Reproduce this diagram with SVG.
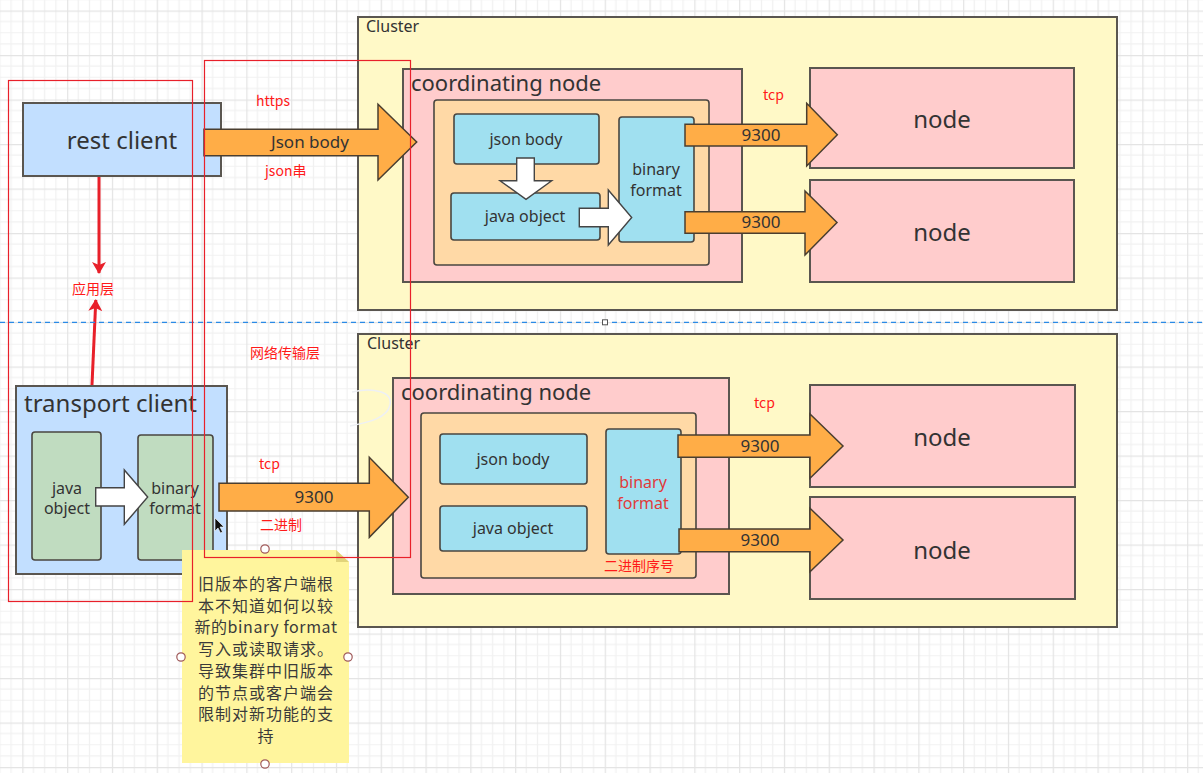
<svg xmlns="http://www.w3.org/2000/svg" width="1203" height="773" viewBox="0 0 1203 773">
<defs>
<style>
.t{font-family:"Noto Sans","Noto Sans CJK SC",sans-serif;fill:#333;}
.r{font-family:"Noto Sans CJK SC","Noto Sans",sans-serif;fill:#ff1a1a;font-size:14px;}
.box{stroke:#5a5650;stroke-width:2;}
.ibox{stroke:#4a4640;stroke-width:1.6;}
.org{fill:#ffad47;stroke:#4a3e30;stroke-width:1.5;stroke-linejoin:miter;}
.wht{fill:#fff;stroke:#444;stroke-width:1.4;}
.rl{fill:none;stroke:#e8202a;stroke-width:1.2;}
.ra{stroke:#e8202a;stroke-width:3;fill:none;}
.h{fill:#fff;stroke:#a05a5a;stroke-width:1.2;}
.sn{font-family:"Noto Sans CJK SC","Noto Sans",sans-serif;fill:#3a3a3a;font-size:16px;text-anchor:middle;letter-spacing:1px;}
</style>
<pattern id="grid" patternUnits="userSpaceOnUse" x="22.3" y="10.5" width="44.8" height="44.5">
<rect width="44.8" height="44.5" fill="#fff"/>
<path d="M11.2,0V44.5M22.4,0V44.5M33.6,0V44.5M0,11.1H44.8M0,22.25H44.8M0,33.4H44.8" stroke="#f1f1f1" stroke-width="1.2"/>
<path d="M0.5,0V44.5M0,0.5H44.8" stroke="#e4e4e4" stroke-width="1.4"/>
</pattern>
<marker id="rah" viewBox="0 0 12 14" refX="11" refY="7" markerWidth="12" markerHeight="14" markerUnits="userSpaceOnUse" orient="auto">
<path d="M0,0 L12,7 L0,14 L3,7 Z" fill="#e8202a"/>
</marker>
</defs>
<rect width="1203" height="773" fill="url(#grid)"/>

<!-- top cluster -->
<g id="cluster-top">
<rect class="box" x="358" y="17" width="759" height="293" fill="#fff9c7"/>
<text class="t" x="366" y="32" font-size="16">Cluster</text>
</g>
<g id="coord-top">
<rect class="box" x="403" y="69" width="339" height="213" fill="#ffcccc"/>
<text class="t" x="411" y="91" font-size="22">coordinating node</text>
<rect class="ibox" x="434" y="100" width="275" height="165" rx="3" fill="#ffd9a6"/>
</g>
<g id="json-body-top">
<rect class="ibox" x="454" y="114" width="145" height="50" rx="3" fill="#a0e0f0"/>
<text class="t" x="526" y="145" font-size="16" text-anchor="middle">json body</text>
</g>
<g id="java-object-top">
<rect class="ibox" x="451" y="193" width="149" height="47" rx="3" fill="#a0e0f0"/>
<text class="t" x="525" y="222" font-size="16" text-anchor="middle">java object</text>
</g>
<g id="binary-top">
<rect class="ibox" x="619" y="117" width="75" height="125" rx="3" fill="#a0e0f0"/>
<text class="t" x="656" y="175" font-size="16" text-anchor="middle">binary</text>
<text class="t" x="656" y="196" font-size="16" text-anchor="middle">format</text>
</g>
<g id="node-top-1">
<rect class="box" x="810" y="68" width="264" height="100" fill="#ffcccc"/>
<text class="t" x="942" y="128" font-size="24" text-anchor="middle">node</text>
</g>
<g id="node-top-2">
<rect class="box" x="810" y="180" width="264" height="102" fill="#ffcccc"/>
<text class="t" x="942" y="241" font-size="24" text-anchor="middle">node</text>
</g>

<!-- bottom cluster -->
<g id="cluster-bottom">
<rect class="box" x="358" y="334" width="759" height="293" fill="#fff9c7"/>
<text class="t" x="367" y="349" font-size="16">Cluster</text>
<path d="M352,392 C374,387 393,392 390,405 C387,418 370,422 350,426" fill="none" stroke="#eef0f4" stroke-width="1.5"/>
</g>
<g id="coord-bottom">
<rect class="box" x="393" y="378" width="336" height="216" fill="#ffcccc"/>
<text class="t" x="401" y="400" font-size="22">coordinating node</text>
<rect class="ibox" x="421" y="413" width="275" height="165" rx="3" fill="#ffd9a6"/>
</g>
<g id="json-body-bottom">
<rect class="ibox" x="440" y="434" width="147" height="50" rx="3" fill="#a0e0f0"/>
<text class="t" x="513" y="465" font-size="16" text-anchor="middle">json body</text>
</g>
<g id="java-object-bottom">
<rect class="ibox" x="440" y="506" width="147" height="45" rx="3" fill="#a0e0f0"/>
<text class="t" x="513" y="534" font-size="16" text-anchor="middle">java object</text>
</g>
<g id="binary-bottom">
<rect class="ibox" x="606" y="429" width="75" height="125" rx="3" fill="#a0e0f0"/>
<text class="t" x="643" y="488" font-size="16" text-anchor="middle" style="fill:#e03a3a">binary</text>
<text class="t" x="643" y="509" font-size="16" text-anchor="middle" style="fill:#e03a3a">format</text>
</g>
<g id="node-bottom-1">
<rect class="box" x="810" y="385" width="265" height="102" fill="#ffcccc"/>
<text class="t" x="942" y="446" font-size="24" text-anchor="middle">node</text>
</g>
<g id="node-bottom-2">
<rect class="box" x="810" y="497" width="265" height="102" fill="#ffcccc"/>
<text class="t" x="942" y="559" font-size="24" text-anchor="middle">node</text>
</g>

<!-- left clients -->
<g id="rest-client">
<rect class="box" x="23" y="103" width="198" height="73" fill="#c2dfff"/>
<text class="t" x="122" y="149" font-size="24" text-anchor="middle">rest client</text>
</g>
<g id="transport-client">
<rect class="box" x="16" y="386" width="211" height="188" fill="#c2dfff"/>
<text class="t" x="24" y="412" font-size="24">transport client</text>
</g>
<g id="java-object-tc">
<rect class="ibox" x="32" y="432" width="69" height="128" rx="3" fill="#c0dcc0"/>
<text class="t" x="67" y="494" font-size="16" text-anchor="middle">java</text>
<text class="t" x="67" y="514" font-size="16" text-anchor="middle">object</text>
</g>
<g id="binary-tc">
<rect class="ibox" x="138" y="435" width="75" height="125" rx="3" fill="#c0dcc0"/>
<text class="t" x="175" y="494" font-size="16" text-anchor="middle">binary</text>
<text class="t" x="175" y="514" font-size="16" text-anchor="middle">format</text>
</g>

<!-- connectors -->
<g id="connectors">
<polygon class="org" points="204,129.3 378,129.3 378,104.3 416.7,142 378,180 378,155.7 204,155.7"/>
<text class="t" x="310" y="148" font-size="17" text-anchor="middle">Json body</text>
<polygon class="wht" points="516.7,158 534.3,158 534.3,180.7 551.7,180.7 526,199.3 500,180.7 516.7,180.7"/>
<polygon class="wht" points="579.3,208.3 608.3,208.3 608.3,190 631.7,217.5 608.3,245 608.3,226.7 579.3,226.7"/>
<polygon class="org" points="685,124.3 806.7,124.3 806.7,103.3 837.3,134.7 806.7,166 806.7,146 685,146"/>
<text class="t" x="761" y="141" font-size="17" text-anchor="middle">9300</text>
<polygon class="org" points="685,211.7 805,211.7 805,191 837,222.5 805,255 805,233.3 685,233.3"/>
<text class="t" x="761" y="228" font-size="17" text-anchor="middle">9300</text>
<polygon class="org" points="678,435 810,435 810,414 843,446 810,478.3 810,457.3 678,457.3"/>
<text class="t" x="760" y="452" font-size="17" text-anchor="middle">9300</text>
<polygon class="org" points="679,529 810,529 810,508.3 843,540 810,571.7 810,551.7 679,551.7"/>
<text class="t" x="760" y="546" font-size="17" text-anchor="middle">9300</text>
<polygon class="wht" points="95.7,487.7 124.3,487.7 124.3,470 147.7,497 124.3,524.3 124.3,506 95.7,506"/>
<polygon class="org" points="219,483.3 369.3,483.3 369.3,457.3 408.3,497.3 369.3,537.3 369.3,511 219,511"/>
<text class="t" x="314" y="503" font-size="17" text-anchor="middle">9300</text>
<path class="ra" d="M99,177 V273" marker-end="url(#rah)"/>
<path class="ra" d="M92,385 L95.8,300" marker-end="url(#rah)"/>
</g>

<!-- red labels -->
<text class="r" x="256" y="106">https</text>
<text class="r" x="265" y="176">json串</text>
<text class="r" x="72" y="294">应用层</text>
<text class="r" x="250" y="358">网络传输层</text>
<text class="r" x="259" y="469">tcp</text>
<text class="r" x="260" y="530">二进制</text>
<text class="r" x="763" y="100">tcp</text>
<text class="r" x="754" y="408">tcp</text>
<text class="r" x="604" y="571">二进制序号</text>

<!-- dashed separator -->
<line x1="0" y1="322.3" x2="1203" y2="322.3" stroke="#2a8ae6" stroke-width="1.2" stroke-dasharray="5,4"/>
<rect x="602.5" y="319.8" width="5" height="5" fill="#fff" stroke="#555" stroke-width="1"/>

<!-- sticky note -->
<g id="sticky-note">
<path d="M182,550 H336 L349,562 V763 H182 Z" fill="#fff59d"/>
<path d="M336,550 L349,562 H336 Z" fill="#e2d47a"/>
<text class="sn" x="266" y="590">旧版本的客户端根</text>
<text class="sn" x="266" y="611.7">本不知道如何以较</text>
<text class="sn" x="266" y="633.4" style="letter-spacing:0.6px">新的binary format</text>
<text class="sn" x="266" y="655.1">写入或读取请求。</text>
<text class="sn" x="266" y="676.8">导致集群中旧版本</text>
<text class="sn" x="266" y="698.5">的节点或客户端会</text>
<text class="sn" x="266" y="720.2">限制对新功能的支</text>
<text class="sn" x="266" y="741.9">持</text>
<circle class="h" cx="265" cy="549" r="4.2"/>
<circle class="h" cx="181" cy="657" r="4.2"/>
<circle class="h" cx="348" cy="657" r="4.2"/>
<circle class="h" cx="265" cy="764" r="4.2"/>
</g>

<!-- red frames -->
<rect class="rl" x="8.5" y="80.5" width="184" height="521"/>
<rect class="rl" x="204.5" y="60.5" width="206" height="497"/>

<!-- cursor -->
<path d="M215,518 L215,531 L218,528 L220.5,533 L222.5,532 L220,527 L224,527 Z" fill="#111" stroke="#fff" stroke-width="0.6"/>
</svg>
